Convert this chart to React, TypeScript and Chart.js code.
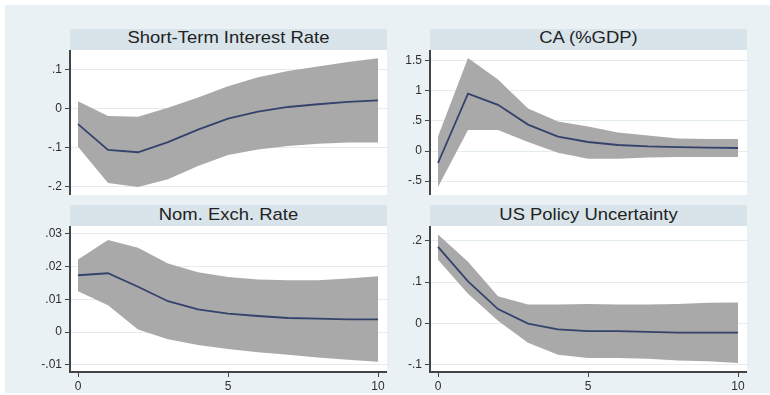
import React, { useEffect, useRef } from 'react';
import { Chart, registerables } from 'chart.js';

Chart.register(...registerables);

// ---------- data ----------
const horizons = [0, 1, 2, 3, 4, 5, 6, 7, 8, 9, 10];
const xTicks = [0, 5, 10];
const xTickLabels = ['0', '5', '10'];

const titles = ['Short-Term Interest Rate', 'CA (%GDP)', 'Nom. Exch. Rate', 'US Policy Uncertainty'];

const rateMean = [-0.039, -0.105, -0.111, -0.085, -0.053, -0.025, -0.007, 0.005, 0.012, 0.018, 0.022];
const rateUpper = [0.020, -0.018, -0.020, 0.003, 0.029, 0.058, 0.081, 0.097, 0.109, 0.120, 0.130];
const rateLower = [-0.097, -0.190, -0.200, -0.180, -0.146, -0.118, -0.104, -0.095, -0.089, -0.086, -0.086];
const rateTicks = [0.1, 0, -0.1, -0.2];
const rateTickLabels = ['.1', '0', '-.1', '-.2'];

const caMean = [-0.2, 0.956, 0.77, 0.44, 0.24, 0.15, 0.10, 0.077, 0.066, 0.055, 0.05];
const caUpper = [0.24, 1.55, 1.19, 0.71, 0.49, 0.41, 0.31, 0.26, 0.21, 0.20, 0.20];
const caLower = [-0.60, 0.35, 0.35, 0.15, -0.03, -0.13, -0.13, -0.11, -0.10, -0.10, -0.10];
const caTicks = [1.5, 1, 0.5, 0, -0.5];
const caTickLabels = ['1.5', '1', '.5', '0', '-.5'];

const fxMean = [0.0173, 0.0179, 0.0138, 0.0094, 0.0069, 0.0056, 0.0049, 0.0043, 0.0041, 0.0039, 0.0039];
const fxUpper = [0.0221, 0.0280, 0.0257, 0.0209, 0.0182, 0.0168, 0.0160, 0.0158, 0.0158, 0.0163, 0.0170];
const fxLower = [0.0124, 0.0082, 0.0008, -0.0022, -0.0039, -0.0051, -0.0061, -0.0069, -0.0077, -0.0084, -0.0090];
const fxTicks = [0.03, 0.02, 0.01, 0, -0.01];
const fxTickLabels = ['.03', '.02', '.01', '0', '-.01'];

const epuMean = [0.185, 0.102, 0.035, 0.0, -0.014, -0.018, -0.018, -0.020, -0.022, -0.022, -0.022];
const epuUpper = [0.215, 0.149, 0.066, 0.046, 0.046, 0.047, 0.046, 0.046, 0.047, 0.050, 0.051];
const epuLower = [0.154, 0.072, 0.007, -0.046, -0.075, -0.083, -0.083, -0.085, -0.089, -0.091, -0.095];
const epuTicks = [0.2, 0.1, 0, -0.1];
const epuTickLabels = ['.2', '.1', '0', '-.1'];

// ---------- styles ----------
const BG = '#eaf1f4';
const BAR = '#d8e4ea';
const GRID = '#e2ecf1';
const BAND = '#a9a9a9';
const LINE = '#34426c';
const AXIS = '#444444';
const TEXT = '#2e2e2e';
const FONT = '"Liberation Sans", Arial, sans-serif';

const whiteArea = {
  id: 'whiteArea',
  beforeDraw(chart: any) {
    const { ctx, chartArea } = chart;
    ctx.save();
    ctx.fillStyle = '#ffffff';
    ctx.fillRect(chartArea.left, chartArea.top, chartArea.right - chartArea.left, chartArea.bottom - chartArea.top);
    ctx.restore();
  },
};

type PanelProps = {
  left: number;
  top: number;
  width: number;
  height: number;
  yAxisWidth: number;
  showX: boolean;
  yMin: number;
  yMax: number;
  yTicks: number[];
  yLabels: string[];
  mean: number[];
  upper: number[];
  lower: number[];
};

function labelFor(v: number, ticks: number[], labels: string[]) {
  let best = 0;
  for (let i = 0; i < ticks.length; i++) {
    if (Math.abs(ticks[i] - v) < Math.abs(ticks[best] - v)) best = i;
  }
  return labels[best];
}

function Panel(p: PanelProps) {
  const ref = useRef<HTMLCanvasElement | null>(null);
  useEffect(() => {
    if (!ref.current) return;
    const pts = (arr: number[]) => horizons.map((h, i) => ({ x: h, y: arr[i] }));
    const chart = new Chart(ref.current, {
      type: 'line',
      data: {
        datasets: [
          {
            data: pts(p.mean),
            borderColor: LINE,
            borderWidth: 1.8,
            pointRadius: 0,
            tension: 0,
            fill: false,
            order: 0,
          },
          {
            data: pts(p.upper),
            borderWidth: 0,
            borderColor: BAND,
            backgroundColor: BAND,
            pointRadius: 0,
            tension: 0,
            fill: '+1',
            order: 1,
          },
          {
            data: pts(p.lower),
            borderWidth: 0,
            borderColor: BAND,
            backgroundColor: BAND,
            pointRadius: 0,
            tension: 0,
            fill: false,
            order: 2,
          },
        ],
      },
      options: {
        animation: false,
        responsive: false,
        maintainAspectRatio: false,
        events: [],
        layout: { padding: 0, autoPadding: false },
        plugins: { legend: { display: false }, tooltip: { enabled: false }, title: { display: false } },
        scales: {
          x: {
            type: 'linear',
            display: p.showX,
            min: -0.267,
            max: 10.3,
            afterBuildTicks: (scale: any) => {
              scale.ticks = xTicks.map((v) => ({ value: v }));
            },
            afterFit: (scale: any) => {
              scale.height = p.showX ? 23 : 0;
              scale.paddingLeft = 0;
              scale.paddingRight = 0;
              scale.paddingTop = 0;
              scale.paddingBottom = 0;
            },
            grid: {
              display: true,
              drawOnChartArea: false,
              color: 'rgba(0,0,0,0)',
              tickColor: AXIS,
              tickLength: 5,
              tickWidth: 1,
            },
            border: { display: true, color: AXIS, width: 2 },
            ticks: {
              padding: 2,
              maxRotation: 0,
              autoSkip: false,
              color: TEXT,
              font: { family: FONT, size: 12 },
              callback: (v: any) => labelFor(Number(v), xTicks, xTickLabels),
            },
          },
          y: {
            type: 'linear',
            min: p.yMin,
            max: p.yMax,
            afterBuildTicks: (scale: any) => {
              scale.ticks = p.yTicks.map((v) => ({ value: v }));
            },
            afterFit: (scale: any) => {
              scale.width = p.yAxisWidth;
              scale.paddingLeft = 0;
              scale.paddingRight = 0;
              scale.paddingTop = 0;
              scale.paddingBottom = 0;
            },
            grid: {
              display: true,
              color: GRID,
              lineWidth: 1,
              tickColor: AXIS,
              tickLength: 5,
              tickWidth: 1,
            },
            border: { display: true, color: AXIS, width: 2 },
            ticks: {
              padding: 3,
              autoSkip: false,
              color: TEXT,
              font: { family: FONT, size: 12 },
              callback: (v: any) => labelFor(Number(v), p.yTicks, p.yLabels),
            },
          },
        },
      },
      plugins: [whiteArea],
    } as any);
    return () => chart.destroy();
  }, []);
  return (
    <canvas
      ref={ref}
      width={p.width}
      height={p.height}
      style={{ position: 'absolute', left: p.left, top: p.top, width: p.width, height: p.height }}
    />
  );
}

function TitleBar({ left, top, width, text, textTop }: { left: number; top: number; width: number; text: string; textTop: number }) {
  return (
    <div
      style={{
        position: 'absolute',
        left,
        top,
        width,
        height: 21,
        background: BAR,
        overflow: 'hidden',
      }}
    >
      <div
        style={{
          position: 'absolute',
          left: 0,
          top: textTop,
          width: '100%',
          textAlign: 'center',
          fontFamily: FONT,
          fontSize: 17,
          lineHeight: '15px',
          color: '#222222',
          whiteSpace: 'nowrap',
          transform: 'scaleX(1.085)',
          transformOrigin: '50% 50%',
        }}
      >
        {text}
      </div>
    </div>
  );
}

export default function App() {
  return (
    <div style={{ position: 'absolute', left: 0, top: 0, width: 770, height: 395, background: '#ffffff', overflow: 'hidden' }}>
      <div style={{ position: 'absolute', left: 5, top: 5, width: 765, height: 388, background: BG }} />

      <TitleBar left={70} top={29} width={317} text={titles[0]} textTop={1} />
      <TitleBar left={430} top={29} width={317} text={titles[1]} textTop={1} />
      <TitleBar left={70} top={205} width={317} text={titles[2]} textTop={2} />
      <TitleBar left={430} top={205} width={317} text={titles[3]} textTop={2} />

      <Panel
        left={0} top={50} width={387} height={145} yAxisWidth={70} showX={false}
        yMin={-0.2205} yMax={0.151} yTicks={rateTicks} yLabels={rateTickLabels}
        mean={rateMean} upper={rateUpper} lower={rateLower}
      />
      <Panel
        left={387} top={50} width={360} height={145} yAxisWidth={43} showX={false}
        yMin={-0.733} yMax={1.683} yTicks={caTicks} yLabels={caTickLabels}
        mean={caMean} upper={caUpper} lower={caLower}
      />
      <Panel
        left={0} top={226} width={387} height={169} yAxisWidth={70} showX={true}
        yMin={-0.01213} yMax={0.03228} yTicks={fxTicks} yLabels={fxTickLabels}
        mean={fxMean} upper={fxUpper} lower={fxLower}
      />
      <Panel
        left={387} top={226} width={360} height={169} yAxisWidth={43} showX={true}
        yMin={-0.1169} yMax={0.2355} yTicks={epuTicks} yLabels={epuTickLabels}
        mean={epuMean} upper={epuUpper} lower={epuLower}
      />
    </div>
  );
}
